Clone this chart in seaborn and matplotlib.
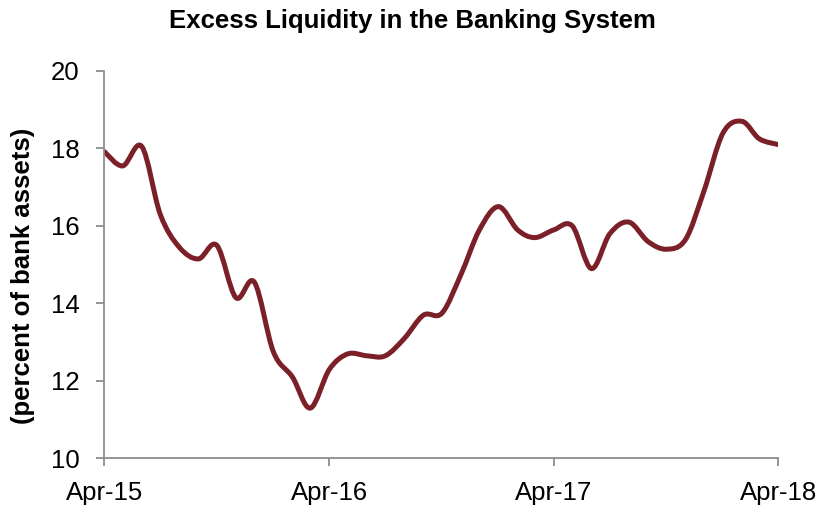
import matplotlib

matplotlib.use("Agg")

import matplotlib.pyplot as plt
import numpy as np
import pandas as pd
import seaborn as sns
from matplotlib.patches import PathPatch
from matplotlib.path import Path

# monthly observations, Apr-2015 .. Apr-2018
months = pd.date_range("2015-04-01", "2018-04-01", freq="MS")
liquidity = [
    17.92, 17.55, 18.05, 16.3, 15.45, 15.15, 15.5, 14.15, 14.55, 12.75,
    12.1, 11.3, 12.3, 12.7, 12.65, 12.65, 13.1, 13.7, 13.75, 14.75,
    15.9, 16.5, 15.9, 15.7, 15.9, 16.0, 14.9, 15.8, 16.1, 15.6,
    15.4, 15.65, 16.9, 18.4, 18.7, 18.25, 18.1,
]
tick_dates = pd.to_datetime(["2015-04-01", "2016-04-01", "2017-04-01", "2018-04-01"])
tick_labels = ["Apr-15", "Apr-16", "Apr-17", "Apr-18"]

LINE_COLOR = "#7b2028"
AXIS_COLOR = "#8c8c8c"

sns.set_style("white")
plt.rcParams["font.family"] = ["Liberation Sans", "DejaVu Sans"]
plt.rcParams["text.color"] = "black"
plt.rcParams["axes.labelcolor"] = "black"

df = pd.DataFrame({"date": months, "value": liquidity})

fig = plt.figure(figsize=(8.29, 5.07), dpi=100)
ax = fig.add_axes([0.1258, 0.0957, 0.8131, 0.7643])

sns.lineplot(data=df, x="date", y="value", ax=ax, color=LINE_COLOR, linewidth=3.6)

# Excel-style smoothed line: swap the polyline for a Catmull-Rom bezier
line = ax.get_lines()[0]
xd = matplotlib.dates.date2num(df["date"])
yd = np.asarray(df["value"], dtype=float)
pts = np.column_stack([xd, yd])
ext = np.vstack([pts[0], pts, pts[-1]])
verts = [pts[0]]
codes = [Path.MOVETO]
for i in range(1, len(ext) - 2):
    p0, p1, p2, p3 = ext[i - 1], ext[i], ext[i + 1], ext[i + 2]
    verts += [p1 + (p2 - p0) / 6, p2 - (p3 - p1) / 6, p2]
    codes += [Path.CURVE4] * 3
patch = PathPatch(Path(verts, codes), facecolor="none", edgecolor=LINE_COLOR,
                  linewidth=3.6, capstyle="round", joinstyle="round")
ax.add_patch(patch)
line.set_visible(False)

ax.set_xlim(tick_dates[0], tick_dates[-1])
ax.set_ylim(10, 20)
ax.set_yticks([10, 12, 14, 16, 18, 20])
ax.set_xticks(tick_dates)
ax.set_xticklabels(tick_labels)

for side in ["top", "right"]:
    ax.spines[side].set_visible(False)
for side in ["left", "bottom"]:
    ax.spines[side].set_color(AXIS_COLOR)
    ax.spines[side].set_linewidth(1.3)

ax.tick_params(axis="both", colors=AXIS_COLOR, width=1.3, length=6,
               labelsize=18.5, labelcolor="black", direction="out")
ax.tick_params(axis="y", pad=12)
ax.tick_params(axis="x", pad=10)
ax.yaxis.set_ticks_position("left")
ax.xaxis.set_ticks_position("bottom")

ax.set_xlabel("")
ax.set_ylabel("(percent of bank assets)", fontsize=18.5, fontweight="bold")
ax.yaxis.set_label_coords(-0.1024, 0.471)

# title is centred on the figure, not on the plot area
fig.text(0.497, 0.958, "Excess Liquidity in the Banking System", fontsize=18.5,
         fontweight="bold", ha="center", va="center", color="black")

fig.savefig("out.png", dpi=100)
